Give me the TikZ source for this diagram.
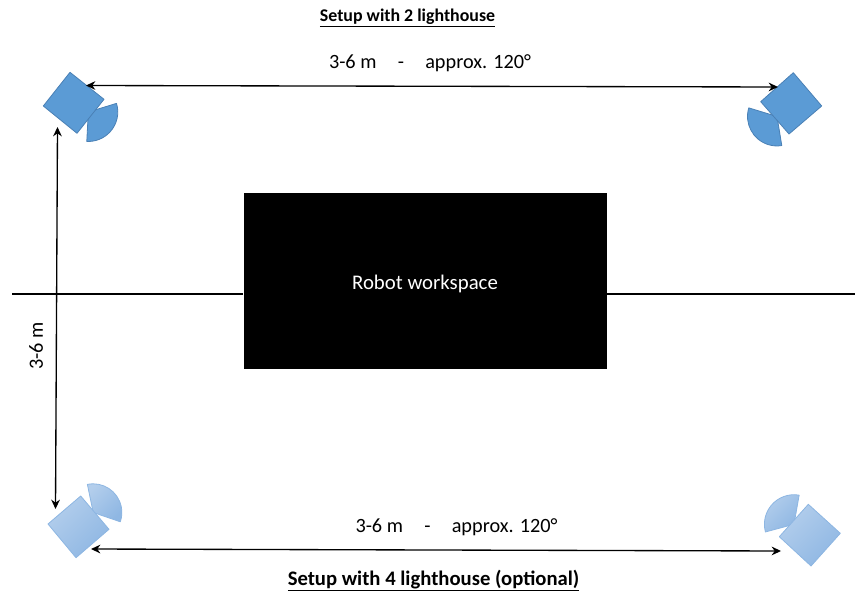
\documentclass[tikz,border=0pt]{standalone}
\usepackage{fontspec}
\setmainfont{Carlito}
\definecolor{bluedark}{HTML}{5B9BD5}
\definecolor{blueedge}{HTML}{4A80B5}
\definecolor{bluelight}{HTML}{B3CEEC}
\definecolor{bluemid}{HTML}{8FB7E3}
\definecolor{blueedgelight}{HTML}{8DB6E2}
\usetikzlibrary{arrows.meta}
\tikzset{
  solid house/.style={fill=bluedark,draw=blueedge,line width=0.6pt,line join=round},
  pale house/.style={left color=bluelight,right color=bluemid,shading angle=45,draw=blueedgelight,line width=0.6pt,line join=round},
  span/.style={draw=black,line width=1pt,{Stealth[length=7pt,width=6.5pt]}-{Stealth[length=7pt,width=6.5pt]}},
  axis/.style={draw=black,line width=0.9pt},
  label/.style={font=\fontsize{15.2pt}{17pt}\selectfont,text=black,inner sep=0pt},
  title/.style={font=\fontsize{13.4pt}{16pt}\selectfont\bfseries,text=black,inner sep=0pt},
  title large/.style={font=\fontsize{15.5pt}{18pt}\selectfont\bfseries,text=black,inner sep=0pt},
  workspace/.style={fill=black,draw=none,text=white,inner sep=0pt}
}
\begin{document}
\begin{tikzpicture}[x=0.75pt,y=0.75pt]
\useasboundingbox (0,0) rectangle (855,590);
% centre line
\coordinate (axisL) at (12,296);
\coordinate (axisR) at (855,296);
\node[workspace,minimum width=272.6pt,minimum height=132pt] (ws) at (425.25,309) {};
\draw[axis] (axisL) -- (ws.west|-axisL);
\draw[axis] (ws.east|-axisR) -- (axisR);
\node[text=white,font=\fontsize{15.6pt}{18pt}\selectfont,inner sep=0pt] (wstext) at (425,306.5) {Robot workspace};
% top left
\draw[solid house] (88.3,478) -- ++(17:29.5) arc[start angle=17,end angle=-93,radius=22.1pt] -- cycle;
\draw[solid house] (70,517.7) -- (104,490.7) -- (77,456.7) -- (43.3,484) -- cycle;
% top right
\draw[solid house] (777,473.5) -- ++(163:29.5) arc[start angle=163,end angle=279.4,radius=22.1pt] -- cycle;
\draw[solid house] (793.3,517.3) -- (821.7,484) -- (789,456) -- (760.7,488.3) -- cycle;
% bottom left
\draw[pale house] (93.2,77.5) -- ++(101.7:28.7) arc[start angle=101.7,end angle=-19,radius=21.5pt] -- cycle;
\draw[pale house] (80.7,94) -- (109,60.7) -- (76,32.3) -- (48,66) -- cycle;
% bottom right
\draw[pale house] (794,65.7) -- ++(80:29.6) arc[start angle=80,end angle=195,radius=22.2pt] -- cycle;
\draw[pale house] (808.3,85.7) -- (840.3,56.7) -- (811,24) -- (779.3,53.3) -- cycle;
% dimension lines
\coordinate (tl) at (86,504.5);
\coordinate (tr) at (778,503);
\coordinate (lt) at (57.5,463);
\coordinate (lb) at (55.5,81);
\coordinate (bl) at (91,41);
\coordinate (br) at (781,39);
\draw[span] (tl) -- (tr);
\draw[span] (lt) -- (lb);
\draw[span] (bl) -- (br);
% labels
\node[title] (t1) at (407.5,572) {\underline{Setup with 2 lighthouse}};
\node[title large] (t2) at (433.5,9.5) {\underline{Setup with 4 lighthouse (optional)}};
\node[label] (d1) at (430,526.5) {3-6 m\hspace{1.05em}-\hspace{1.05em}approx. 120°};
\node[label] (d2) at (456.5,62.5) {3-6 m\hspace{1.05em}-\hspace{1.05em}approx. 120°};
\node[label,rotate=90] (d3) at (36,244) {3-6 m};
\end{tikzpicture}
\end{document}
